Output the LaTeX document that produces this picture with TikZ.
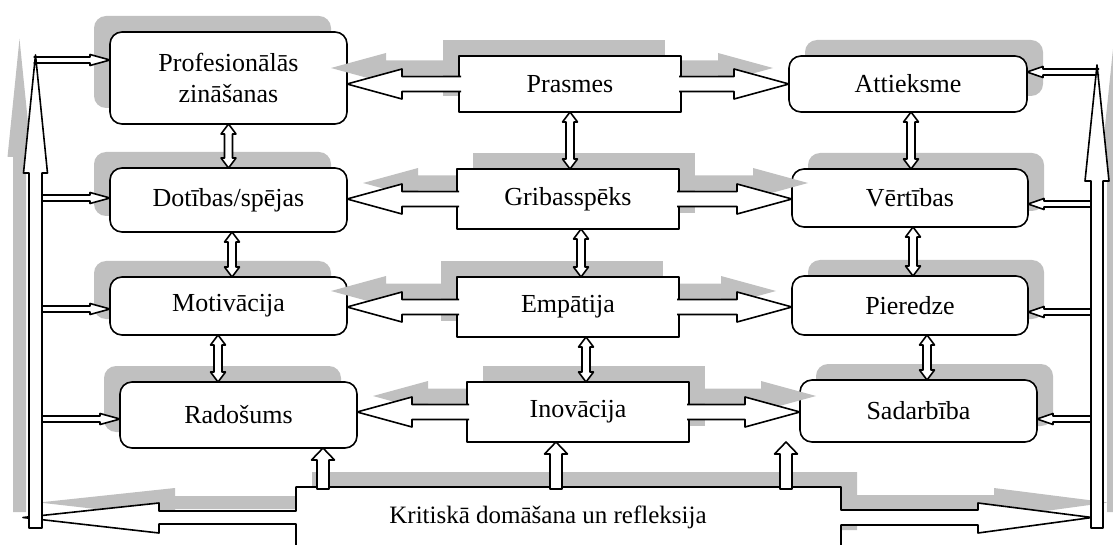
\documentclass[tikz,border=0pt]{standalone}
\usepackage{fontspec}
\setmainfont{Liberation Serif}
\usetikzlibrary{calc}
\definecolor{shadowc}{HTML}{C0C0C0}
\pgfdeclarelayer{front}
\pgfsetlayers{main,front}
% block arrow: style, from, to, shaft half width, head half width, head length, end
\newcommand{\barrow}[7]{%
  \coordinate (ba) at (#2);
  \coordinate (bt) at (#3);
  \coordinate (bs) at ($(ba)!-2pt!(bt)$);
  \coordinate (bh) at ($(bt)!#6!(ba)$);
  \path[#1] ($(bs)!#4!90:(bt)$) -- ($(bh)!#4!90:(bt)$) -- ($(bh)!#5!90:(bt)$) -- (bt)
    -- ($(bh)!#5!-90:(bt)$) -- ($(bh)!#4!-90:(bt)$) -- ($(bs)!#4!-90:(bt)$) #7;}
% double headed block arrow: style, from, to, shaft half width, head half width, head length
\newcommand{\dbarrow}[6]{%
  \coordinate (da) at (#2);
  \coordinate (db) at (#3);
  \coordinate (ha) at ($(da)!#6!(db)$);
  \coordinate (hb) at ($(db)!#6!(da)$);
  \path[#1] (da) -- ($(ha)!#5!90:(db)$) -- ($(ha)!#4!90:(db)$) -- ($(hb)!#4!90:(db)$)
    -- ($(hb)!#5!90:(db)$) -- (db) -- ($(hb)!#5!-90:(db)$) -- ($(hb)!#4!-90:(db)$)
    -- ($(ha)!#4!-90:(db)$) -- ($(ha)!#5!-90:(db)$) -- cycle;}
% middle box with its two arrows
\newcommand{\midrow}[4]{%
  \fill[#1] (#2.south west) rectangle (#2.north east);
  \barrow{#1}{#2.west}{#3 |- #2.west}{7.5pt}{15pt}{55pt}{}
  \barrow{#1}{#2.east}{#4 |- #2.east}{7.5pt}{15pt}{55pt}{}
  \draw[outline] (#2.south west) rectangle (#2.north east);
  \barrow{outline}{#2.west}{#3 |- #2.west}{7.5pt}{15pt}{55pt}{}
  \barrow{outline}{#2.east}{#4 |- #2.east}{7.5pt}{15pt}{55pt}{}}
\newcommand*{\critshape}{(296,545) -- (296,524) -- (159,524) -- (159,533) -- (23,517.5)
  -- (159,503) -- (159,511) -- (296,511) -- (296,487) -- (841,487) -- (841,510)
  -- (978,510) -- (978,503) -- (1092,517.5) -- (978,533) -- (978,525) -- (841,525)
  -- (841,545)}

\begin{document}
\begin{tikzpicture}[x=1pt, y=-1pt,
  box/.style={inner sep=0pt, outer sep=0pt, align=center, font=\fontsize{26}{31}\selectfont},
  outline/.style={draw=black, fill=white, line width=1.6pt, line join=round},
  lshade/.style={fill=shadowc, transform canvas={shift={(-16,-16)}}},
  rshade/.style={fill=shadowc, transform canvas={shift={(16,-16)}}},
  corner/.style={rounded corners=12pt}]
\useasboundingbox (0,0) rectangle (1113,545);

\begin{pgfonlayer}{front}
\node[box, minimum width=237, minimum height=92] (prof) at (228.5,78) {Profesionālās\\zināšanas};
\node[box, minimum width=237, minimum height=64] (dot) at (228.5,200) {Dotības/spējas};
\node[box, minimum width=237, minimum height=58] (mot) at (228.5,306) {Motivācija};
\node[box, minimum width=237, minimum height=66] (rad) at (238.5,415) {Radošums};
\node[box, minimum width=222, minimum height=56] (pras) at (570,84) {Prasmes};
\node[box, minimum width=222, minimum height=60] (grib) at (568,199) {Gribasspēks};
\node[box, minimum width=222, minimum height=60] (emp) at (568,307) {Empātija};
\node[box, minimum width=222, minimum height=60] (ino) at (578,412) {Inovācija};
\node[box, minimum width=238, minimum height=56] (att) at (908,84) {Attieksme};
\node[box, minimum width=236, minimum height=58] (vert) at (910,198) {Vērtības};
\node[box, minimum width=236, minimum height=59] (pier) at (910,305.5) {Pieredze};
\node[box, minimum width=237, minimum height=62] (sad) at (918.5,411) {Sadarbība};
\node[box, font=\fontsize{25}{30}\selectfont, anchor=base] (krit) at (548,523) {Kritiskā domāšana un refleksija};
\end{pgfonlayer}

\coordinate (lbot) at (35.5,526);
\coordinate (ltop) at (35.5,55);
\coordinate (rbot) at (1097,526);
\coordinate (rtop) at (1097,65);
\coordinate (ktop) at (548,487);

% shadows
\barrow{lshade}{lbot}{ltop}{6.5pt}{12pt}{118pt}{-- cycle}
\barrow{rshade}{rbot}{rtop}{6pt}{12pt}{116pt}{-- cycle}
\fill[shadowc, transform canvas={shift={(16,-15)}}] \critshape;

% side boxes
\foreach \n in {prof,dot,mot,rad} {
  \fill[lshade, corner] (\n.south west) rectangle (\n.north east);
  \draw[outline, corner] (\n.south west) rectangle (\n.north east);
}
\foreach \n in {att,vert,pier,sad} {
  \fill[rshade, corner] (\n.south west) rectangle (\n.north east);
  \draw[outline, corner] (\n.south west) rectangle (\n.north east);
}

% middle boxes
\midrow{lshade}{pras}{prof.east}{att.west}
\midrow{rshade}{grib}{dot.east}{vert.west}
\midrow{lshade}{emp}{mot.east}{pier.west}
\midrow{rshade}{ino}{rad.east}{sad.west}

% bottom block
\draw[outline] \critshape;

% links between rows
\dbarrow{outline}{prof.south}{dot.north}{4pt}{7.5pt}{10pt}
\dbarrow{outline}{232,0 |- dot.south}{232,0 |- mot.north}{4pt}{7.5pt}{10pt}
\dbarrow{outline}{218,0 |- mot.south}{218,0 |- rad.north}{4pt}{7.5pt}{10pt}
\dbarrow{outline}{pras.south}{pras.south |- grib.north}{4pt}{7.5pt}{10pt}
\dbarrow{outline}{581,0 |- grib.south}{581,0 |- emp.north}{4pt}{7.5pt}{10pt}
\dbarrow{outline}{586,0 |- emp.south}{586,0 |- ino.north}{4pt}{7.5pt}{10pt}
\dbarrow{outline}{911,0 |- att.south}{911,0 |- vert.north}{4pt}{7.5pt}{10pt}
\dbarrow{outline}{913,0 |- vert.south}{913,0 |- pier.north}{4pt}{7.5pt}{10pt}
\dbarrow{outline}{927,0 |- pier.south}{927,0 |- sad.north}{4pt}{7.5pt}{10pt}

% from the bottom block
\barrow{outline}{323,0 |- ktop}{323,0 |- rad.south}{6pt}{11.5pt}{12pt}{-- cycle}
\barrow{outline}{556,0 |- ktop}{556,0 |- ino.south}{6pt}{11.5pt}{12pt}{-- cycle}
\barrow{outline}{786,0 |- ktop}{786,0 |- sad.south}{6pt}{11.5pt}{12pt}{-- cycle}

% small arrows from the side columns
\coordinate (l1) at (35.5,60);
\coordinate (l2) at (35.5,198);
\coordinate (l3) at (35.5,309);
\coordinate (l4) at (35.5,419);
\coordinate (r1) at (1097,72);
\coordinate (r2) at (1097,204);
\coordinate (r3) at (1097,312);
\coordinate (r4) at (1097,419);
\barrow{outline}{l1}{prof.west |- l1}{3pt}{5.5pt}{20pt}{}
\barrow{outline}{l2}{dot.west |- l2}{3pt}{5.5pt}{20pt}{}
\barrow{outline}{l3}{mot.west |- l3}{3pt}{5.5pt}{20pt}{}
\barrow{outline}{l4}{rad.west |- l4}{3pt}{5.5pt}{20pt}{}
\barrow{outline}{r1}{att.east |- r1}{3pt}{5.5pt}{16pt}{}
\barrow{outline}{r2}{vert.east |- r2}{3pt}{5.5pt}{16pt}{}
\barrow{outline}{r3}{pier.east |- r3}{3pt}{5.5pt}{16pt}{}
\barrow{outline}{r4}{sad.east |- r4}{3pt}{5.5pt}{16pt}{}

% side columns
\barrow{outline}{lbot}{ltop}{6.5pt}{12pt}{118pt}{-- cycle}
\barrow{outline}{rbot}{rtop}{6pt}{12pt}{116pt}{-- cycle}
\end{tikzpicture}
\end{document}
